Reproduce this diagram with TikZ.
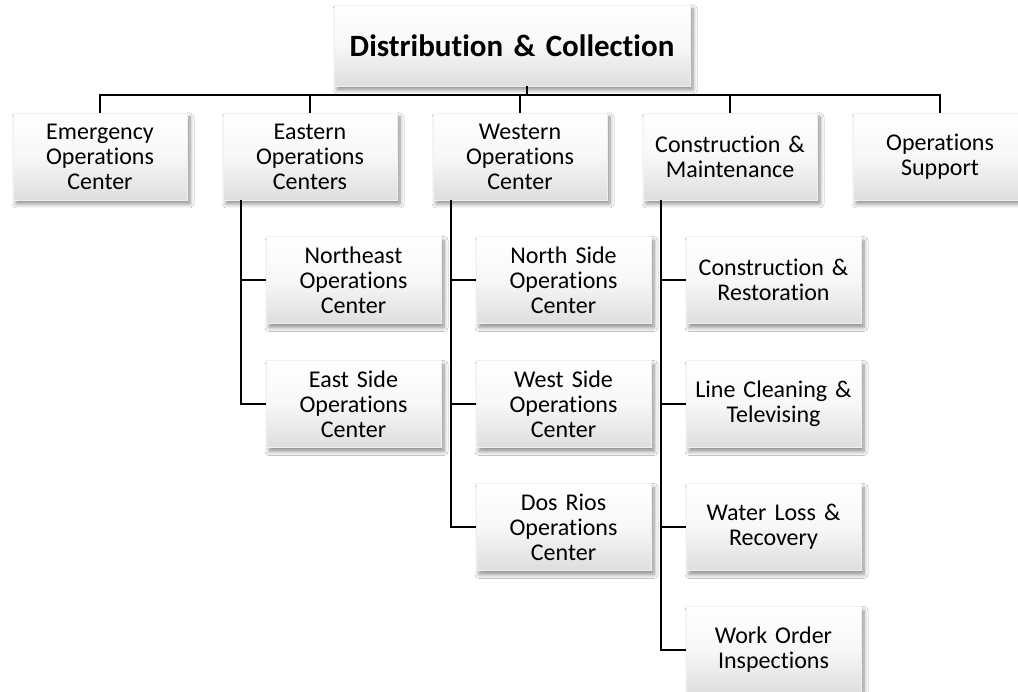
\documentclass[tikz,border=0pt]{standalone}
\usepackage{fontspec}
\setmainfont{Carlito}[Ligatures={NoCommon}]
\usetikzlibrary{shadows.blur}
\tikzset{
  box/.style={draw=black!6, top color=white, bottom color=black!13, middle color=white!97!black,
    blur shadow={shadow xshift=3pt, shadow yshift=-4pt, shadow blur steps=6, shadow opacity=45, shadow blur radius=4pt},
    minimum width=174pt, minimum height=87pt, inner sep=0pt, text width=172pt, align=center,
    font=\fontsize{24}{25}\selectfont},
  subbox/.style={box, minimum width=175pt},
  titlebox/.style={box, minimum width=356pt, minimum height=81pt, text width=354pt,
    font=\fontsize{31}{36}\selectfont\bfseries},
  conn/.style={draw=black, line width=2pt}
}
\begin{document}
\begin{tikzpicture}[x=1pt,y=-1pt]
\useasboundingbox (0,0) rectangle (1018,692);
\fill[white] (0,0) rectangle (1018,692);
\coordinate (busy) at (0,95);
\node[titlebox] (top) at (512,45.5) {Distribution \& Collection};
\node[box] (emerg) at (100,156.5) {Emergency\\Operations\\Center};
\node[box] (east) at (310,156.5) {Eastern\\Operations\\Centers};
\node[box] (west) at (520,156.5) {Western\\Operations\\Center};
\node[box] (cm) at (730,156.5) {Construction \&\\Maintenance};
\node[box] (ops) at (940,156.5) {Operations\\Support};
\node[subbox] (ne) at (353.5,280) {Northeast\\Operations\\Center};
\node[subbox] (es) at (353.5,404) {East Side\\Operations\\Center};
\node[subbox] (ns) at (563.5,280) {North Side\\Operations\\Center};
\node[subbox] (ws) at (563.5,404) {West Side\\Operations\\Center};
\node[subbox] (dr) at (563.5,527) {Dos Rios\\Operations\\Center};
\node[subbox] (cr) at (773.5,280) {Construction \&\\Restoration};
\node[subbox] (lc) at (773.5,404) {Line Cleaning \&\\Televising};
\node[subbox] (wl) at (773.5,527) {Water Loss \&\\Recovery};
\node[subbox] (wo) at (773.5,650) {Work Order\\Inspections};
\draw[conn] ([xshift=15pt]top.south) -- ([xshift=15pt]top.south |- busy);
\draw[conn] (emerg.north) -- (emerg.north |- busy) -- (ops.north |- busy) -- (ops.north);
\draw[conn] (east.north) -- (east.north |- busy);
\draw[conn] (west.north) -- (west.north |- busy);
\draw[conn] (cm.north) -- (cm.north |- busy);
\draw[conn] ([xshift=18pt]east.south west) |- (ne.west);
\draw[conn] ([xshift=18pt]east.south west) |- (es.west);
\draw[conn] ([xshift=18pt]west.south west) |- (ns.west);
\draw[conn] ([xshift=18pt]west.south west) |- (ws.west);
\draw[conn] ([xshift=18pt]west.south west) |- (dr.west);
\draw[conn] ([xshift=18pt]cm.south west) |- (cr.west);
\draw[conn] ([xshift=18pt]cm.south west) |- (lc.west);
\draw[conn] ([xshift=18pt]cm.south west) |- (wl.west);
\draw[conn] ([xshift=18pt]cm.south west) |- (wo.west);
\end{tikzpicture}
\end{document}
